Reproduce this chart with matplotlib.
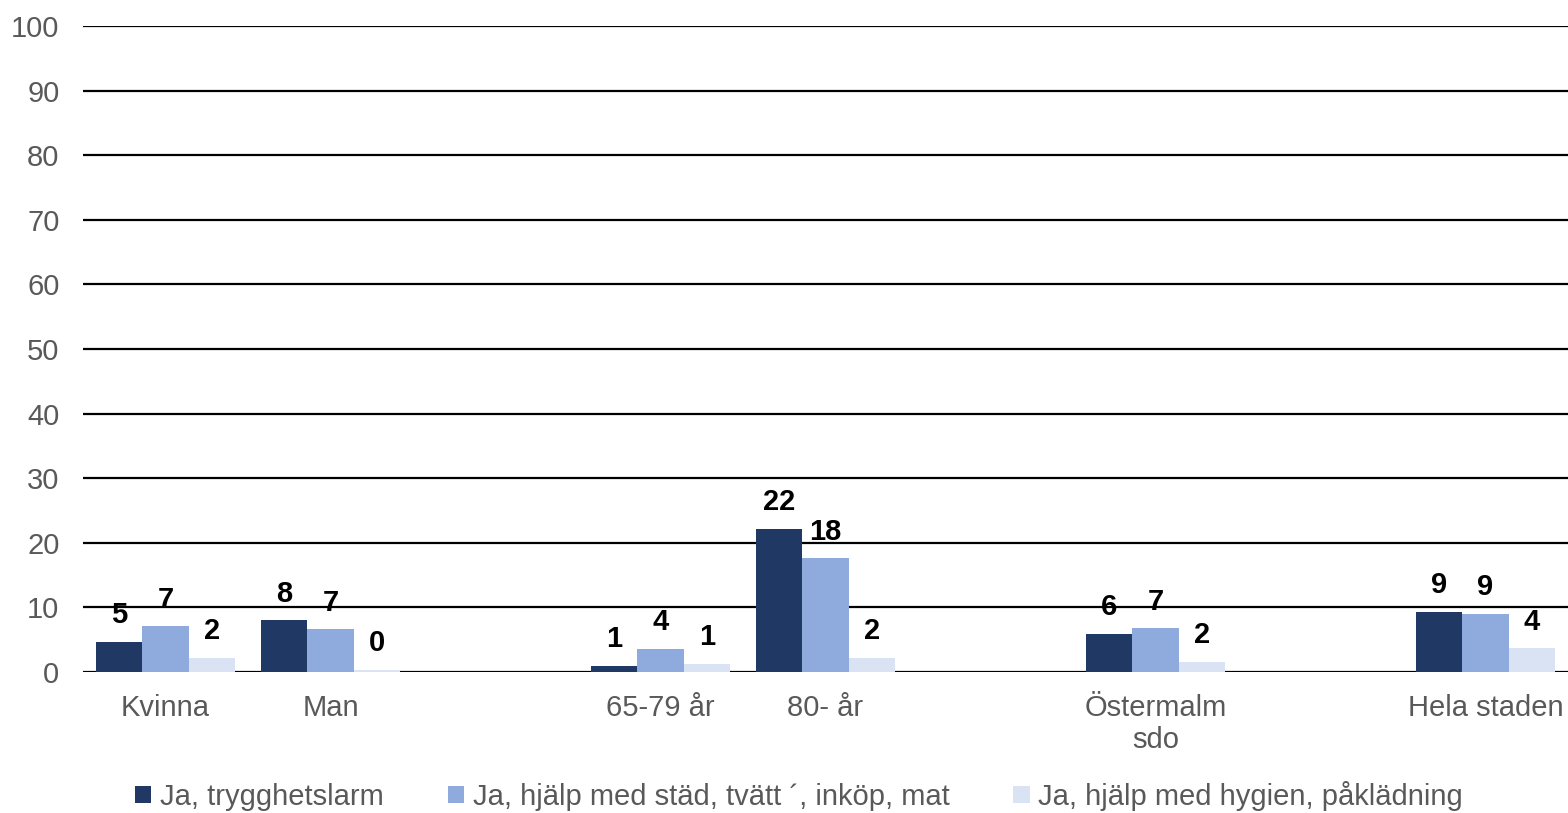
import matplotlib.pyplot as plt
import numpy as np

plt.rcParams['font.family'] = ['Liberation Sans', 'DejaVu Sans']

# Data (empty categories are spacer slots in the original chart)
categories = ['Kvinna', 'Man', '', '65-79 år', '80- år', '', 'Östermalm\nsdo', '', 'Hela staden']
trygghetslarm = [4.7, 8.0, np.nan, 1.0, 22.2, np.nan, 5.9, np.nan, 9.3]
stad_tvatt = [7.1, 6.6, np.nan, 3.6, 17.6, np.nan, 6.8, np.nan, 9.0]
hygien = [2.2, 0.35, np.nan, 1.3, 2.2, np.nan, 1.6, np.nan, 3.7]
series_names = ['Ja, trygghetslarm', 'Ja, hjälp med städ, tvätt ´, inköp, mat',
                'Ja, hjälp med hygien, påklädning']
colors = ['#203864', '#8FAADC', '#DAE3F3']
y_ticks = [0, 10, 20, 30, 40, 50, 60, 70, 80, 90, 100]

fig = plt.figure(figsize=(15.68, 8.13), dpi=100)
ax = fig.add_axes([0.053, 0.1734, 0.947, 0.7946])

x = np.arange(len(categories))
width = 0.28
series = [trygghetslarm, stad_tvatt, hygien]

# gridlines first so bars sit on top
for t in y_ticks:
    ax.axhline(t, color='black', linewidth=1.6, zorder=1)

handles = []
for i, vals in enumerate(series):
    vals = np.array(vals, dtype=float)
    pos = x + (i - 1) * width
    bars = ax.bar(pos, vals, width, color=colors[i], zorder=2, label=series_names[i])
    handles.append(bars)
    for xp, v in zip(pos, vals):
        if np.isnan(v):
            continue
        ax.annotate('%.0f' % v, (xp, v), xytext=(0, 9), textcoords='offset points',
                    ha='center', va='bottom', fontsize=21, fontweight='bold', color='black')

ax.set_xlim(-0.5, len(categories) - 0.5)
ax.set_ylim(0, 100)
ax.set_yticks(y_ticks)
ax.set_xticks(x)
ax.set_xticklabels(categories, fontsize=21, color='#595959', linespacing=1.15)
ax.tick_params(axis='y', labelsize=21, labelcolor='#595959', length=0, pad=17)
ax.tick_params(axis='x', length=0, pad=16)
for s in ax.spines.values():
    s.set_visible(False)

fig.legend(handles=handles, labels=series_names, loc='center', ncol=3,
           bbox_to_anchor=(0.5096, 0.021), frameon=False, fontsize=21,
           handlelength=0.55, handleheight=0.55, handletextpad=0.3, columnspacing=2.2,
           labelcolor='#595959', borderaxespad=0, borderpad=0)

fig.savefig('out.png', dpi=100)
